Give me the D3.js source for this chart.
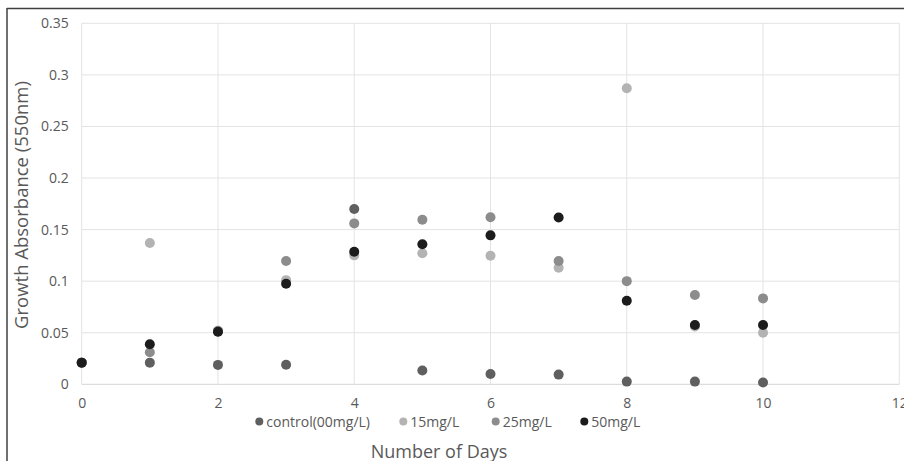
<!DOCTYPE html>
<html><head><meta charset="utf-8">
<script src="https://cdn.jsdelivr.net/npm/d3@7"></script>
<style>body{margin:0;background:#fff}svg{display:block}text{font-family:"Open Sans","Noto Sans",sans-serif}</style>
</head><body><svg id="c" width="904" height="461"></svg>
<script>
const days = [0,1,2,3,4,5,6,7,8,9,10];
const seriesNames = ["control(00mg/L)","15mg/L","25mg/L","50mg/L"];
const seriesColors = ["#5f5f5f","#b3b3b3","#8c8c8c","#1c1c1c"];
const control = [0.021,0.021,0.0188,0.019,0.170,0.0133,0.010,0.0094,0.0026,0.0026,0.0017];
const mg15 = [0.021,0.137,0.051,0.101,0.125,0.127,0.1247,0.113,0.287,0.056,0.050];
const mg25 = [0.021,0.031,0.052,0.1195,0.156,0.1595,0.162,0.1195,0.100,0.0865,0.0833];
const mg50 = [0.021,0.0388,0.051,0.0975,0.1285,0.1357,0.1444,0.1618,0.081,0.0575,0.0575];
const xTicks = [0,2,4,6,8,10,12];
const yTicks = [0,0.05,0.1,0.15,0.2,0.25,0.3,0.35];
const xTitle = "Number of Days";
const yTitle = "Growth Absorbance (550nm)";

const svg = d3.select("#c");
const x = d3.scaleLinear().domain([0,12]).range([81.7,899.3]);
const y = d3.scaleLinear().domain([0,0.35]).range([384.3,23.3]);

svg.append("line").attr("x1",7).attr("x2",904).attr("y1",8.5).attr("y2",8.5).attr("stroke","#404040").attr("stroke-width",1.5);
svg.append("line").attr("x1",7).attr("x2",7).attr("y1",8).attr("y2",461).attr("stroke","#404040").attr("stroke-width",1.5);

const g = svg.append("g");
g.selectAll(".gy").data(yTicks).join("line")
  .attr("x1",x(0)).attr("x2",x(12)).attr("y1",d=>y(d)).attr("y2",d=>y(d))
  .attr("stroke",d=>d===0?"#d4d4d4":"#e3e3e3").attr("stroke-width",1);
g.selectAll(".gx").data(xTicks).join("line")
  .attr("x1",d=>x(d)).attr("x2",d=>x(d)).attr("y1",y(0)).attr("y2",y(0.35))
  .attr("stroke","#e3e3e3").attr("stroke-width",1);

const xa = svg.append("g").attr("transform",`translate(0,${y(0)})`)
  .call(d3.axisBottom(x).tickValues(xTicks).tickSize(0).tickPadding(14).tickFormat(d3.format("d")));
const ya = svg.append("g").attr("transform",`translate(${x(0)},0)`)
  .call(d3.axisLeft(y).tickValues(yTicks).tickSize(0).tickPadding(13).tickFormat(d=>d===0?"0":String(+d.toFixed(2))));
[xa,ya].forEach(a=>{a.select(".domain").remove();a.selectAll("text").attr("fill","#595959").style("font-size","14px").style("font-family","'Open Sans','Noto Sans',sans-serif");});

const all = [control,mg15,mg25,mg50];
all.forEach((vals,i)=>{
  svg.append("g").selectAll("circle").data(vals.map((v,j)=>[days[j],v])).join("circle")
    .attr("cx",d=>x(d[0])).attr("cy",d=>y(d[1])).attr("r",5).attr("fill",seriesColors[i]);
});

const legX = [259.3,403.3,495.7,584.3];
const lg = svg.append("g");
seriesNames.forEach((n,i)=>{
  lg.append("circle").attr("cx",legX[i]).attr("cy",421.5).attr("r",4).attr("fill",seriesColors[i]);
  lg.append("text").attr("x",legX[i]+7).attr("y",426.5).attr("fill","#595959").style("font-size","14px").text(n);
});

svg.append("text").attr("x",439).attr("y",458).attr("text-anchor","middle").attr("fill","#595959").style("font-size","18px").text(xTitle);
svg.append("text").attr("transform","translate(28,205) rotate(-90)").attr("text-anchor","middle").attr("fill","#595959").style("font-size","18.5px").text(yTitle);
</script></body></html>
